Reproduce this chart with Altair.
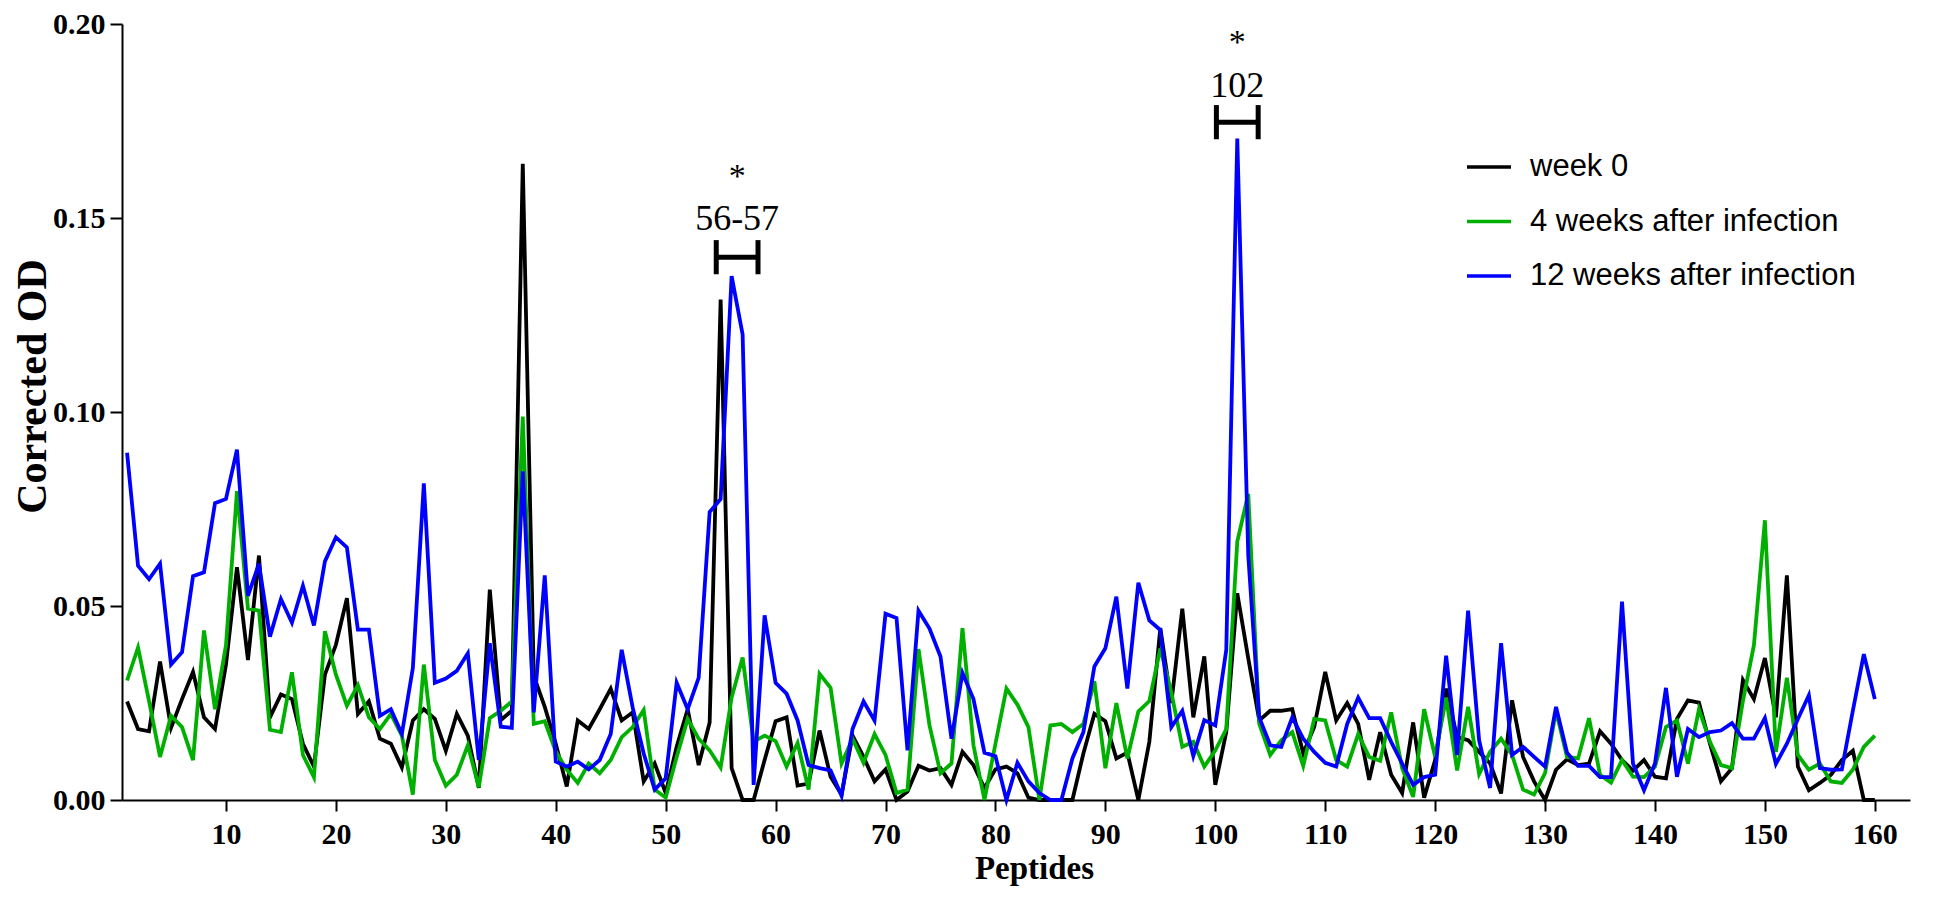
import altair as alt
import pandas as pd

peptides = list(range(1, 161))

week0 = [0.0254, 0.0183, 0.0177, 0.0357, 0.0186, 0.026, 0.033, 0.0213, 0.0183, 0.0349,
         0.060, 0.0361, 0.063, 0.0213, 0.0272, 0.026, 0.0145, 0.0086, 0.0323, 0.040,
         0.052, 0.0222, 0.0254, 0.0158, 0.0145, 0.0084, 0.0205, 0.0234, 0.0209, 0.0127,
         0.0222, 0.0166, 0.0031, 0.0542, 0.0206, 0.023, 0.164, 0.032, 0.024, 0.0145,
         0.0035, 0.0205, 0.0183, 0.0234, 0.0287, 0.0205, 0.0226, 0.0048, 0.0094, 0.0018,
         0.0137, 0.0234, 0.009, 0.02, 0.129, 0.0082, 0.0, 0.0, 0.0103, 0.0203,
         0.0213, 0.0037, 0.0042, 0.0179, 0.006, 0.0014, 0.0166, 0.0111, 0.0048, 0.0079,
         0.0, 0.0022, 0.0088, 0.0076, 0.0082, 0.0039, 0.0124, 0.009, 0.0031, 0.0079,
         0.0086, 0.0069, 0.0006, 0.0, 0.0, 0.0, 0.0, 0.012, 0.0222, 0.0203,
         0.0107, 0.0122, 0.0, 0.015, 0.0443, 0.025, 0.0493, 0.0213, 0.037, 0.0039,
         0.0175, 0.0533, 0.0365, 0.0205, 0.023, 0.023, 0.0234, 0.012, 0.0188, 0.033,
         0.0205, 0.025, 0.0196, 0.0052, 0.0175, 0.0065, 0.0018, 0.02, 0.0006, 0.0103,
         0.0287, 0.0162, 0.0154, 0.0124, 0.0094, 0.0017, 0.0257, 0.0111, 0.0048, 0.0,
         0.0078, 0.0105, 0.009, 0.0094, 0.0177, 0.0145, 0.0103, 0.0076, 0.0103, 0.006,
         0.0056, 0.0209, 0.0257, 0.0251, 0.0145, 0.0048, 0.0082, 0.0309, 0.026, 0.0366,
         0.0213, 0.0579, 0.0086, 0.0025, 0.0044, 0.0065, 0.0103, 0.0127, 0.0, 0.0]

week4 = [0.0308, 0.0393, 0.0255, 0.0111, 0.0217, 0.0188, 0.0103, 0.0437, 0.0234, 0.0399,
         0.0796, 0.0493, 0.0488, 0.0181, 0.0175, 0.0329, 0.0116, 0.0059, 0.0435, 0.0323,
         0.0243, 0.0296, 0.0213, 0.0183, 0.0222, 0.0166, 0.0014, 0.0349, 0.0103, 0.0037,
         0.0065, 0.0141, 0.0033, 0.0211, 0.023, 0.0254, 0.0988, 0.0196, 0.0203, 0.0125,
         0.0078, 0.0044, 0.0094, 0.0069, 0.0103, 0.0162, 0.0188, 0.0232, 0.0027, 0.0006,
         0.0111, 0.0209, 0.0158, 0.0128, 0.0084, 0.0264, 0.0367, 0.015, 0.0166, 0.0152,
         0.0086, 0.0147, 0.0027, 0.0325, 0.0289, 0.0094, 0.0158, 0.0096, 0.017, 0.0116,
         0.0018, 0.0027, 0.0389, 0.0192, 0.0069, 0.0094, 0.0443, 0.0141, 0.0, 0.0145,
         0.0287, 0.0246, 0.0188, 0.0, 0.0192, 0.0196, 0.0175, 0.0196, 0.0306, 0.0082,
         0.025, 0.0107, 0.0228, 0.0255, 0.0391, 0.0277, 0.0137, 0.015, 0.0086, 0.0128,
         0.0183, 0.0666, 0.0789, 0.0196, 0.0116, 0.0154, 0.0175, 0.0088, 0.0209, 0.0205,
         0.0103, 0.0086, 0.017, 0.0111, 0.0101, 0.0226, 0.0082, 0.0008, 0.0234, 0.0111,
         0.0264, 0.0076, 0.024, 0.0067, 0.0124, 0.0158, 0.0116, 0.0027, 0.0014, 0.0069,
         0.023, 0.0111, 0.0107, 0.0211, 0.0065, 0.0045, 0.0103, 0.006, 0.0059, 0.0086,
         0.0188, 0.0205, 0.0094, 0.0234, 0.015, 0.009, 0.0082, 0.0255, 0.0399, 0.0721,
         0.0124, 0.0315, 0.0116, 0.0078, 0.0094, 0.0048, 0.0044, 0.0078, 0.0137, 0.0166]

week12 = [0.0895, 0.0604, 0.0569, 0.0609, 0.0349, 0.0381, 0.0577, 0.0587, 0.0765, 0.0776,
          0.0903, 0.0526, 0.0609, 0.0421, 0.0518, 0.0457, 0.0552, 0.045, 0.0615, 0.0677,
          0.0651, 0.0439, 0.0439, 0.0217, 0.0234, 0.017, 0.034, 0.0816, 0.0302, 0.0313,
          0.0333, 0.0378, 0.0103, 0.0404, 0.0189, 0.0186, 0.0847, 0.0226, 0.0579, 0.0099,
          0.0086, 0.0099, 0.0079, 0.0103, 0.017, 0.0387, 0.0238, 0.012, 0.0027, 0.0056,
          0.0302, 0.0234, 0.0315, 0.0742, 0.0776, 0.135, 0.12, 0.0039, 0.0476, 0.0302,
          0.0274, 0.0205, 0.009, 0.0082, 0.0076, 0.0011, 0.0183, 0.0254, 0.0205, 0.048,
          0.0469, 0.0128, 0.0488, 0.0442, 0.037, 0.0158, 0.0327, 0.026, 0.0122, 0.0113,
          0.0, 0.0096, 0.0048, 0.0018, 0.0, 0.0, 0.0107, 0.0175, 0.0344, 0.0391,
          0.0524, 0.0287, 0.056, 0.0463, 0.0438, 0.0188, 0.023, 0.0113, 0.0206, 0.0192,
          0.0387, 0.1705, 0.063, 0.0213, 0.0141, 0.0137, 0.0213, 0.0158, 0.0124, 0.0096,
          0.0086, 0.0196, 0.0264, 0.0211, 0.0211, 0.015, 0.0094, 0.0039, 0.0059, 0.0065,
          0.0372, 0.0116, 0.0488, 0.0154, 0.0031, 0.0404, 0.0116, 0.0137, 0.0111, 0.0086,
          0.024, 0.0122, 0.0088, 0.0088, 0.0059, 0.0059, 0.0511, 0.0094, 0.0025, 0.0094,
          0.0289, 0.006, 0.0183, 0.0162, 0.0175, 0.0179, 0.0198, 0.0158, 0.0158, 0.0211,
          0.0093, 0.0145, 0.0209, 0.027, 0.0082, 0.0078, 0.0079, 0.023, 0.0376, 0.026]

series_names = ["week 0", "4 weeks after infection", "12 weeks after infection"]
series_colors = ["#000000", "#00b000", "#0000ff"]

x_ticks = [10, 20, 30, 40, 50, 60, 70, 80, 90, 100, 110, 120, 130, 140, 150, 160]
y_ticks = [0.0, 0.05, 0.10, 0.15, 0.20]

# significance annotations
ann_center = [56.5, 102]
ann_half_width = 1.9
ann_label = ["56-57", "102"]
ann_bracket_y = [0.1399, 0.1747]
ann_bar_half = 0.0044
ann_label_y = [0.1470, 0.1813]
ann_star_y = [0.1580, 0.1925]

rows = []
for name, vals in zip(series_names, [week0, week4, week12]):
    for p, v in zip(peptides, vals):
        rows.append({"Peptide": p, "OD": v, "series": name})
df = pd.DataFrame(rows)

xscale = alt.Scale(domain=[0.54, 163.2], nice=False, zero=False)
yscale = alt.Scale(domain=[0, 0.2], nice=False)
cscale = alt.Scale(domain=series_names, range=series_colors)

xaxis = alt.Axis(values=x_ticks, format="d", title="Peptides", titleX=912, titleY=68,
                 titleBaseline="middle", titleFontSize=33, labelPadding=8, tickSize=11)
yaxis = alt.Axis(values=y_ticks, format=".2f", title="Corrected OD", titleX=-110, titleY=362,
                 titleBaseline="top", titleAngle=-90, titleFontSize=42, labelPadding=5,
                 tickSize=12)

legend = alt.Legend(title=None, orient="none", legendX=1343, legendY=119,
                    symbolType="stroke", symbolSize=1936, symbolStrokeWidth=3.5,
                    labelFont="Liberation Sans", labelFontSize=31, labelOffset=17,
                    rowPadding=15.5, labelColor="black", labelLimit=0)

def line_layer(name):
    return alt.Chart(df[df["series"] == name]).mark_line(strokeWidth=3.8).encode(
        x=alt.X("Peptide:Q", scale=xscale, axis=xaxis),
        y=alt.Y("OD:Q", scale=yscale, axis=yaxis),
        color=alt.Color("series:N", scale=cscale, legend=legend),
    )

ann_df = pd.DataFrame({
    "xc": ann_center,
    "x1": [c - ann_half_width for c in ann_center],
    "x2": [c + ann_half_width for c in ann_center],
    "yb": ann_bracket_y,
    "ylo": [y - ann_bar_half for y in ann_bracket_y],
    "yhi": [y + ann_bar_half for y in ann_bracket_y],
    "label": ann_label,
    "ylab": ann_label_y,
    "ystar": ann_star_y,
    "star": ["*", "*"],
})

base_ann = alt.Chart(ann_df)
hbar = base_ann.mark_rule(strokeWidth=5, color="black").encode(
    x=alt.X("x1:Q", scale=xscale), x2="x2:Q", y=alt.Y("yb:Q", scale=yscale))
lbar = base_ann.mark_rule(strokeWidth=5, color="black").encode(
    x=alt.X("x1:Q", scale=xscale), y=alt.Y("ylo:Q", scale=yscale), y2="yhi:Q")
rbar = base_ann.mark_rule(strokeWidth=5, color="black").encode(
    x=alt.X("x2:Q", scale=xscale), y=alt.Y("ylo:Q", scale=yscale), y2="yhi:Q")
labels = base_ann.mark_text(font="Liberation Serif", fontSize=36, baseline="alphabetic",
                            align="center", color="black").encode(
    x=alt.X("xc:Q", scale=xscale), y=alt.Y("ylab:Q", scale=yscale), text="label:N")
stars = base_ann.mark_text(font="Liberation Serif", fontSize=34, baseline="alphabetic",
                           align="center", color="black").encode(
    x=alt.X("xc:Q", scale=xscale), y=alt.Y("ystar:Q", scale=yscale), text="star:N")

chart = alt.layer(
    line_layer(series_names[0]),
    line_layer(series_names[1]),
    line_layer(series_names[2]),
    hbar, lbar, rbar, labels, stars,
).properties(
    width=1788, height=776,
    autosize=alt.AutoSizeParams(type="none"),
    padding={"left": 114, "top": 16, "right": 30, "bottom": 104},
).configure_view(
    stroke=None
).configure_axis(
    grid=False,
    labelFont="Liberation Serif", labelFontWeight="bold", labelFontSize=30, labelColor="black",
    titleFont="Liberation Serif", titleFontWeight="bold", titleColor="black",
    domainColor="black", domainWidth=2, tickColor="black", tickWidth=2,
)

chart.save("out.html", embed_options={"renderer": "svg", "actions": False})
